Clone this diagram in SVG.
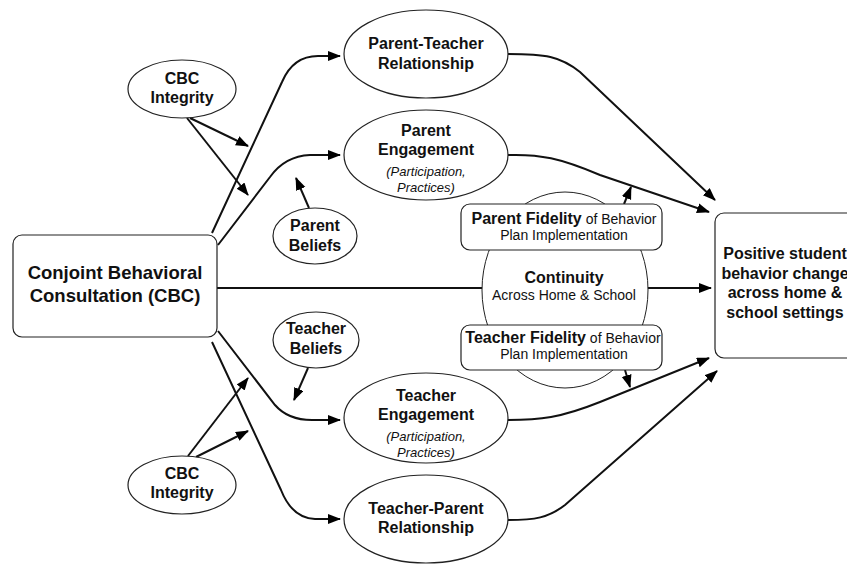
<svg xmlns="http://www.w3.org/2000/svg" width="847" height="565" viewBox="0 0 847 565">
<defs>
<marker id="ah" markerUnits="userSpaceOnUse" markerWidth="14" markerHeight="12" refX="12" refY="5" orient="auto">
<path d="M0,0 L13,5 L0,10 Z" fill="#000"/>
</marker>
<style>
.c{fill:none;stroke:#111;stroke-width:2;marker-end:url(#ah)}
.h{fill:none;stroke:#111;stroke-width:2}
.n{fill:#fff;stroke:#222;stroke-width:1.2}
.t{font-family:"Liberation Sans",Arial,sans-serif;font-weight:bold;font-size:16px;text-anchor:middle;fill:#111}
.i{font-family:"Liberation Sans",Arial,sans-serif;font-style:italic;font-size:13px;text-anchor:middle;fill:#111}
.r{font-family:"Liberation Sans",Arial,sans-serif;font-size:14px;text-anchor:middle;fill:#111}
</style>
</defs>
<rect width="847" height="565" fill="#fff"/>
<g id="connectors">
<path class="c" d="M212,233 L282,82 Q293,56 318,56 L340,56"/>
<path class="c" d="M218,245 L270,177 Q285,156 310,155 L340,155"/>
<path class="c" d="M217,288 L711,288"/>
<path class="c" d="M218,331 L275,405 Q288,420 312,420 L340,420"/>
<path class="c" d="M212,342 L281,490 Q292,518 315,519 L340,519"/>
<path class="c" d="M190,118 L248,146"/>
<path class="c" d="M187,118 L248,195"/>
<path class="c" d="M188,456 L248,378"/>
<path class="c" d="M196,457 L248,431"/>
<path class="c" d="M309,208 L296,178"/>
<path class="c" d="M308,368 L294,400"/>
<path class="c" d="M624,204 L631,187"/>
<path class="c" d="M625,370 L630,387"/>
<path class="c" d="M508,54 C545,54 560,56 580,72 L715,200"/>
<path class="c" d="M508,155 C540,154 560,158 600,175 L709,212"/>
<path class="c" d="M508,420 C540,420 560,418 600,402 L709,358"/>
<path class="c" d="M508,520 C535,520 548,518 565,505 L717,371"/>
</g>
<g id="cbc">
<rect class="n" x="13" y="235" width="204" height="102" rx="9"/>
<text class="t" x="115" y="278.5" style="font-size:18.5px">Conjoint Behavioral</text>
<text class="t" x="115" y="301.5" style="font-size:18.5px">Consultation (CBC)</text>
</g>
<g id="cbc-integrity-top">
<ellipse class="n" cx="182" cy="89" rx="54" ry="29"/>
<text class="t" x="182" y="84">CBC</text>
<text class="t" x="182" y="103">Integrity</text>
</g>
<g id="cbc-integrity-bottom">
<ellipse class="n" cx="182" cy="485" rx="54" ry="29"/>
<text class="t" x="182" y="479">CBC</text>
<text class="t" x="182" y="498">Integrity</text>
</g>
<g id="parent-teacher">
<ellipse class="n" cx="426" cy="54" rx="82" ry="44"/>
<text class="t" x="426" y="49">Parent-Teacher</text>
<text class="t" x="426" y="69">Relationship</text>
</g>
<g id="parent-engagement">
<ellipse class="n" cx="426" cy="155" rx="82" ry="45"/>
<text class="t" x="426" y="136">Parent</text>
<text class="t" x="426" y="155">Engagement</text>
<text class="i" x="426" y="176">(Participation,</text>
<text class="i" x="426" y="192">Practices)</text>
</g>
<g id="parent-beliefs">
<ellipse class="n" cx="315" cy="236" rx="42" ry="28"/>
<text class="t" x="315" y="231">Parent</text>
<text class="t" x="315" y="251">Beliefs</text>
</g>
<g id="teacher-beliefs">
<ellipse class="n" cx="316" cy="340" rx="43" ry="28"/>
<text class="t" x="316" y="334">Teacher</text>
<text class="t" x="316" y="354">Beliefs</text>
</g>
<g id="teacher-engagement">
<ellipse class="n" cx="426" cy="418" rx="82" ry="45"/>
<text class="t" x="426" y="401">Teacher</text>
<text class="t" x="426" y="420">Engagement</text>
<text class="i" x="426" y="441">(Participation,</text>
<text class="i" x="426" y="457">Practices)</text>
</g>
<g id="teacher-parent">
<ellipse class="n" cx="426" cy="519" rx="82" ry="44"/>
<text class="t" x="426" y="514">Teacher-Parent</text>
<text class="t" x="426" y="533">Relationship</text>
</g>
<g id="continuity">
<ellipse class="n" cx="565" cy="290" rx="83" ry="98" style="stroke-width:1"/>
<text class="t" x="564" y="283">Continuity</text>
<text class="r" x="564" y="300">Across Home &amp; School</text>
</g>
<g id="parent-fidelity">
<rect class="n" x="461" y="204" width="201" height="46" rx="9"/>
<text class="r" x="564" y="223.5"><tspan style="font-weight:bold;font-size:16px">Parent Fidelity</tspan> of Behavior</text>
<text class="r" x="564" y="240">Plan Implementation</text>
</g>
<g id="teacher-fidelity">
<rect class="n" x="461" y="325" width="201" height="45" rx="9"/>
<text class="r" x="563" y="343"><tspan style="font-weight:bold;font-size:16px">Teacher Fidelity</tspan> of Behavior</text>
<text class="r" x="564" y="359">Plan Implementation</text>
</g>
<g id="outcome">
<rect class="n" x="715" y="213" width="150" height="145" rx="9"/>
<text class="t" x="785" y="259">Positive student</text>
<text class="t" x="785" y="278.5">behavior change</text>
<text class="t" x="785" y="298">across home &amp;</text>
<text class="t" x="785" y="317.5">school settings</text>
</g>
</svg>
